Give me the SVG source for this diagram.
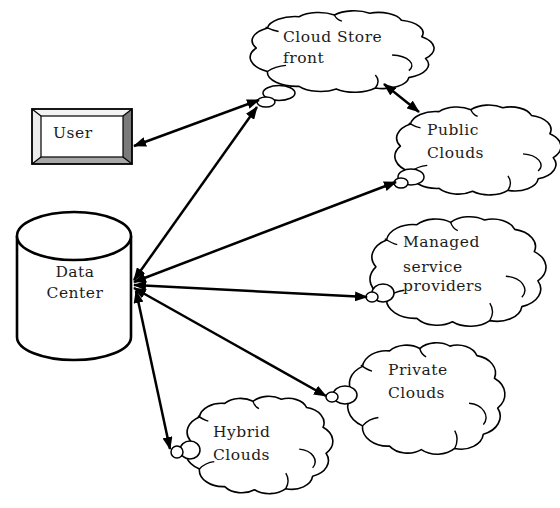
<svg xmlns="http://www.w3.org/2000/svg" xmlns:xlink="http://www.w3.org/1999/xlink" width="560" height="508" viewBox="0 0 560 508">
  <style>
    .lbl { font-family: "DejaVu Serif", "Liberation Serif", serif; font-size: 15.5px; fill: #1c1c1c; letter-spacing: 0.5px; }
    .cloud { fill: #ffffff; stroke: #000000; stroke-width: 1.6; vector-effect: non-scaling-stroke; stroke-linejoin: round; }
    .inner { fill: none; stroke: #000000; stroke-width: 1.4; vector-effect: non-scaling-stroke; }
    .bubble { fill: #ffffff; stroke: #000000; stroke-width: 1.5; }
    .link { fill: none; stroke: #000000; stroke-width: 2.5; marker-start: url(#head); marker-end: url(#head); }
    .thin { fill: none; stroke: #000000; stroke-width: 1.2; }
  </style>
  <defs>
    <marker id="head" viewBox="0 0 13 10" refX="12" refY="5" markerWidth="13" markerHeight="10" markerUnits="userSpaceOnUse" orient="auto-start-reverse">
      <path d="M0,0 L13,5 L0,10 Z" fill="#000000"/>
    </marker>
    <!-- unit cloud outline in a 100 x 100 box -->
    <g id="cloudShape">
      <path class="cloud" d="M5,46 A17 17 0 0 1 11,23 A15 15 0 0 1 28,10 A14 14 0 0 1 47,8 A14 14 0 0 1 66,6 A13 13 0 0 1 83,14 A15 15 0 0 1 94,33 A17 17 0 0 1 96,58 A16 16 0 0 1 87,80 A14 14 0 0 1 69,92 A15 15 0 0 1 48,93 A14 14 0 0 1 28,90 A16 16 0 0 1 11,73 A19 19 0 0 1 5,46 Z"/>
      <path class="inner" d="M78,54 A12 12 0 0 1 87,72"/>
      <path class="inner" d="M69,77 Q72,84 69,92"/>
      <path class="inner" d="M11,73 Q15,67 21,66"/>
      <path class="inner" d="M10,22 Q14,26 17,27"/>
      <path class="inner" d="M47,8 Q48,13 51,15"/>
    </g>
  </defs>

  <rect width="560" height="508" fill="#ffffff"/>

  <!-- User: bevelled button -->
  <g id="user">
    <polygon points="32,109 132,109 123,116 41,116" fill="#f4f4f4"/>
    <polygon points="32,109 41,116 41,157 32,164" fill="#ececec"/>
    <polygon points="132,109 123,116 123,157 132,164" fill="#7a7a7a"/>
    <polygon points="32,164 41,157 123,157 132,164" fill="#a8a8a8"/>
    <rect x="41" y="116" width="82" height="41" fill="#ffffff" stroke="#000000" stroke-width="1.2"/>
    <line class="thin" x1="32" y1="109" x2="41" y2="116"/>
    <line class="thin" x1="132" y1="109" x2="123" y2="116"/>
    <line class="thin" x1="32" y1="164" x2="41" y2="157"/>
    <line class="thin" x1="132" y1="164" x2="123" y2="157"/>
    <rect x="32" y="109" width="100" height="55" fill="none" stroke="#000000" stroke-width="1.8"/>
    <text class="lbl" x="53" y="138">User</text>
  </g>

  <!-- Data Center: cylinder -->
  <g id="datacenter">
    <path d="M17,236 L17,337 A57 23 0 0 0 131,337 L131,236" fill="#ffffff" stroke="#000000" stroke-width="2.6"/>
    <ellipse cx="74" cy="236" rx="57" ry="24" fill="#ffffff" stroke="#000000" stroke-width="2.6"/>
    <text class="lbl" x="75" y="277" text-anchor="middle">Data</text>
    <text class="lbl" x="75" y="298" text-anchor="middle">Center</text>
  </g>

  <!-- Cloud Store front -->
  <g id="cloudstore">
    <use xlink:href="#cloudShape" transform="translate(247,8) scale(1.86,0.87)"/>
    <ellipse class="bubble" cx="279" cy="93" rx="16" ry="7.5"/>
    <ellipse class="bubble" cx="266" cy="102" rx="9" ry="5"/>
    <text class="lbl" x="283" y="42">Cloud Store</text>
    <text class="lbl" x="283" y="63">front</text>
  </g>

  <!-- Public Clouds -->
  <g id="public">
    <use xlink:href="#cloudShape" transform="translate(392,102) scale(1.68,0.96)"/>
    <ellipse class="bubble" cx="411" cy="177" rx="13" ry="8"/>
    <ellipse class="bubble" cx="401" cy="183" rx="7" ry="5"/>
    <text class="lbl" x="427" y="135">Public</text>
    <text class="lbl" x="427" y="158">Clouds</text>
  </g>

  <!-- Managed service providers -->
  <g id="managed">
    <use xlink:href="#cloudShape" transform="translate(367,213) scale(1.78,1.17)"/>
    <ellipse class="bubble" cx="383" cy="293" rx="11" ry="9"/>
    <ellipse class="bubble" cx="372" cy="297" rx="6" ry="5"/>
    <text class="lbl" x="403" y="247">Managed</text>
    <text class="lbl" x="403" y="272">service</text>
    <text class="lbl" x="403" y="291">providers</text>
  </g>

  <!-- Private Clouds -->
  <g id="private">
    <use xlink:href="#cloudShape" transform="translate(345,339) scale(1.59,1.19)"/>
    <ellipse class="bubble" cx="345" cy="395" rx="12" ry="9"/>
    <ellipse class="bubble" cx="332" cy="397" rx="6" ry="5"/>
    <text class="lbl" x="388" y="375">Private</text>
    <text class="lbl" x="388" y="398">Clouds</text>
  </g>

  <!-- Hybrid Clouds -->
  <g id="hybrid">
    <use xlink:href="#cloudShape" transform="translate(183,393) scale(1.49,1.04)"/>
    <ellipse class="bubble" cx="190" cy="450" rx="10" ry="9"/>
    <ellipse class="bubble" cx="177" cy="452" rx="6" ry="6"/>
    <text class="lbl" x="213" y="437">Hybrid</text>
    <text class="lbl" x="213" y="460">Clouds</text>
  </g>

  <!-- connectors (double-headed) -->
  <g id="connectors">
    <line class="link" x1="134" y1="146" x2="259" y2="100"/>
    <line class="link" x1="384" y1="84" x2="419" y2="112"/>
    <line class="link" x1="134" y1="280" x2="257" y2="107"/>
    <line class="link" x1="134" y1="282" x2="396" y2="182"/>
    <line class="link" x1="134" y1="285" x2="367" y2="297"/>
    <line class="link" x1="134" y1="288" x2="326" y2="396"/>
    <line class="link" x1="136" y1="291" x2="170" y2="449"/>
  </g>
</svg>
